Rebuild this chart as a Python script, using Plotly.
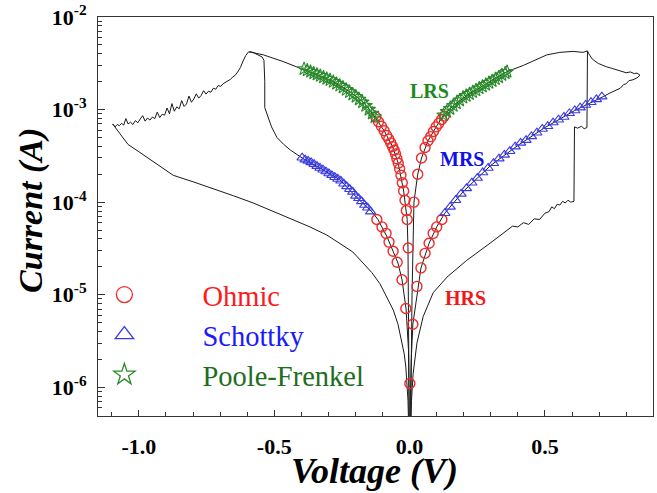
import math
import plotly.graph_objects as go

# ---------------- data (Voltage in V, Current in A) ----------------
# negative sweep: noisy rise to peak, drop, MRS branch, down to 0
neg_loop_v = [-1.097, -1.088, -1.080, -1.072, -1.064, -1.056, -1.048, -1.040, -1.031, -1.022,
              -1.013, -1.004, -0.995, -0.986, -0.977, -0.968, -0.959, -0.950, -0.941, -0.932,
              -0.923, -0.914, -0.905, -0.896, -0.887, -0.878, -0.869, -0.860, -0.851, -0.842,
              -0.833, -0.824, -0.815, -0.806, -0.797, -0.788, -0.779, -0.770, -0.761, -0.752,
              -0.743, -0.734, -0.725, -0.716, -0.707, -0.698, -0.689, -0.680, -0.671, -0.662,
              -0.653, -0.644, -0.635, -0.625, -0.615, -0.605,
              -0.595, -0.585, -0.575, -0.560, -0.545, -0.538, -0.535, -0.535, -0.525, -0.510,
              -0.490, -0.465, -0.440, -0.420, -0.397, -0.320, -0.257, -0.195, -0.140, -0.117,
              -0.100, -0.083, -0.060, -0.043, -0.028, -0.013, -0.004, -0.001]
neg_loop_i = [7.0e-4, 6.5e-4, 6.9e-4, 6.7e-4, 7.1e-4, 6.8e-4, 8.0e-4, 7.0e-4, 7.3e-4, 6.9e-4,
              7.6e-4, 7.2e-4, 7.9e-4, 8.6e-4, 7.5e-4, 8.1e-4, 7.7e-4, 8.3e-4, 8.0e-4, 9.4e-4,
              8.2e-4, 8.9e-4, 8.7e-4, 1.04e-3, 9.0e-4, 1.16e-3, 9.6e-4, 1.07e-3, 1.02e-3, 1.25e-3,
              1.08e-3, 1.15e-3, 1.40e-3, 1.20e-3, 1.30e-3, 1.48e-3, 1.33e-3, 1.42e-3, 1.60e-3, 1.47e-3,
              1.58e-3, 1.54e-3, 1.70e-3, 1.66e-3, 1.82e-3, 1.78e-3, 1.90e-3, 1.96e-3, 2.05e-3, 2.12e-3,
              2.25e-3, 2.35e-3, 2.55e-3, 2.85e-3, 3.35e-3, 3.85e-3,
              4.2e-3, 4.2e-3, 4.1e-3, 3.9e-3, 3.7e-3, 3.4e-3, 2.0e-3, 1.05e-3, 8.5e-4, 6.5e-4,
              5.0e-4, 4.2e-4, 3.65e-4, 3.3e-4, 3.0e-4, 2.24e-4, 1.74e-4, 1.12e-4, 7.9e-5, 6.5e-5,
              5.2e-5, 4.2e-5, 2.9e-5, 2.2e-5, 1.45e-5, 7.0e-6, 2.5e-6, 3.0e-7]

# negative sweep, HRS return branch
neg_hrs_v = [-1.097, -1.080, -1.060, -1.040, -1.000, -0.966, -0.920, -0.873, -0.800, -0.726,
             -0.650, -0.578, -0.500, -0.442, -0.368, -0.305, -0.257, -0.210, -0.172, -0.140,
             -0.110, -0.085, -0.060, -0.043, -0.029, -0.020, -0.014, -0.006, -0.002]
neg_hrs_i = [7.0e-4, 6.0e-4, 5.0e-4, 4.2e-4, 3.5e-4, 3.0e-4, 2.45e-4, 1.95e-4, 1.66e-4, 1.41e-4,
             1.17e-4, 9.8e-5, 7.9e-5, 6.6e-5, 5.4e-5, 4.4e-5, 3.6e-5, 2.9e-5, 2.2e-5, 1.74e-5,
             1.32e-5, 9.5e-6, 6.8e-6, 4.8e-6, 3.2e-6, 2.3e-6, 1.66e-6, 7.2e-7, 2.5e-7]

# negative LRS branch (from peak back to 0)
neg_lrs_v = [-0.5925, -0.540, -0.467, -0.393, -0.294, -0.220, -0.170, -0.128, -0.094, -0.063,
             -0.042, -0.022, -0.009, -0.006, -0.004, -0.003, -0.002, -0.001]
neg_lrs_i = [4.2e-3, 3.9e-3, 3.3e-3, 2.7e-3, 2.09e-3, 1.55e-3, 1.2e-3, 8.3e-4, 5.9e-4, 3.98e-4,
             2.63e-4, 1.32e-4, 6.5e-5, 3.2e-5, 1.0e-5, 3.2e-6, 1.0e-6, 3.2e-7]

# positive sweep: HRS rise, two set jumps, up to 0.85 V
pos_set_v = [0.002, 0.007, 0.013, 0.027, 0.050, 0.087, 0.138, 0.210, 0.297, 0.360,
             0.380, 0.400, 0.420, 0.440, 0.460, 0.480, 0.500, 0.515, 0.525, 0.535,
             0.545, 0.555, 0.565, 0.575, 0.585, 0.595, 0.607, 0.609, 0.620, 0.635,
             0.645, 0.655, 0.657, 0.662, 0.675, 0.697, 0.712, 0.727, 0.745, 0.765,
             0.780, 0.800, 0.815, 0.830, 0.840, 0.851]
pos_set_i = [2.5e-7, 7.2e-7, 1.4e-6, 3.0e-6, 5.8e-6, 1.05e-5, 1.55e-5, 2.34e-5, 3.6e-5, 5.0e-5,
             5.5e-5, 5.4e-5, 6.0e-5, 5.75e-5, 6.6e-5, 6.5e-5, 7.6e-5, 7.9e-5, 8.9e-5, 8.5e-5,
             9.5e-5, 9.3e-5, 1.02e-4, 9.8e-5, 1.05e-4, 1.0e-4, 1.02e-4, 6.5e-4, 6.3e-4, 6.6e-4,
             6.2e-4, 6.4e-4, 4.3e-3, 4.0e-3, 3.5e-3, 3.15e-3, 3.0e-3, 2.9e-3, 2.8e-3, 2.7e-3,
             2.62e-3, 2.5e-3, 2.55e-3, 2.45e-3, 2.48e-3, 2.35e-3]

# positive MRS return branch (0.85 V back to 0)
pos_mrs_v = [0.851, 0.840, 0.825, 0.810, 0.800, 0.790, 0.778, 0.760, 0.740, 0.715,
             0.610, 0.500, 0.400, 0.300, 0.200, 0.130, 0.100, 0.072, 0.042, 0.012,
             0.006, 0.003, 0.001]
pos_mrs_i = [2.35e-3, 2.2e-3, 2.1e-3, 2.05e-3, 1.9e-3, 1.86e-3, 1.7e-3, 1.62e-3, 1.51e-3, 1.38e-3,
             9.77e-4, 6.4e-4, 4.1e-4, 2.5e-4, 1.32e-4, 7.6e-5, 5.4e-5, 3.6e-5, 1.95e-5, 4.8e-6,
             2.0e-6, 8.0e-7, 2.5e-7]

# positive LRS branch (from peak back to 0)
pos_lrs_v = [0.657, 0.640, 0.604, 0.555, 0.507, 0.480, 0.420, 0.360, 0.293, 0.221,
             0.161, 0.125, 0.098, 0.068, 0.044, 0.030, 0.016, 0.012, 0.009, 0.007,
             0.005, 0.004]
pos_lrs_i = [4.3e-3, 4.15e-3, 4.25e-3, 4.15e-3, 3.9e-3, 3.6e-3, 3.0e-3, 2.57e-3, 1.95e-3, 1.48e-3,
             1.10e-3, 8.7e-4, 6.5e-4, 4.6e-4, 3.0e-4, 2.0e-4, 1.0e-4, 3.2e-5, 1.0e-5, 3.2e-6,
             1.0e-6, 3.2e-7]

# Ohmic fit points
ohmic_v = [-0.125, -0.115, -0.104, -0.094, -0.085, -0.077, -0.070, -0.063, -0.057, -0.052,
           -0.047, -0.042, -0.037, -0.032, -0.027, -0.022, -0.017, -0.012, -0.009, -0.005,
           0.128, 0.118, 0.108, 0.098, 0.088, 0.078, 0.068, 0.057, 0.044, 0.030, 0.016,
           -0.121, -0.102, -0.087, -0.076, -0.061, -0.046, -0.028, -0.014,
           0.119, 0.100, 0.087, 0.072, 0.057, 0.042, 0.027, 0.012, 0.001]
ohmic_i = [8.3e-4, 7.4e-4, 6.6e-4, 5.9e-4, 5.25e-4, 4.8e-4, 4.37e-4, 3.98e-4, 3.63e-4, 3.31e-4,
           2.95e-4, 2.63e-4, 2.29e-4, 1.95e-4, 1.62e-4, 1.32e-4, 1.05e-4, 8.1e-5, 6.5e-5, 3.2e-5,
           8.5e-4, 7.8e-4, 7.1e-4, 6.5e-4, 5.8e-4, 5.1e-4, 4.6e-4, 3.9e-4, 3.0e-4, 2.0e-4, 1.0e-4,
           6.5e-5, 5.4e-5, 4.6e-5, 3.7e-5, 2.95e-5, 2.24e-5, 1.45e-5, 7.1e-6,
           6.5e-5, 5.4e-5, 4.6e-5, 3.6e-5, 2.8e-5, 1.95e-5, 1.23e-5, 4.8e-6, 1.1e-6]

# Schottky fit points
schottky_v = [-0.397, -0.386, -0.375, -0.364, -0.353, -0.342, -0.331, -0.320, -0.309, -0.298,
              -0.287, -0.276, -0.265, -0.254, -0.243, -0.232, -0.221, -0.210, -0.199, -0.188,
              -0.177, -0.166, -0.155, -0.144,
              0.13, 0.15, 0.17, 0.19, 0.21, 0.23, 0.25, 0.27, 0.29, 0.31,
              0.33, 0.35, 0.37, 0.39, 0.41, 0.43, 0.45, 0.47, 0.49, 0.51,
              0.53, 0.55, 0.57, 0.59, 0.61, 0.63, 0.65, 0.67, 0.69, 0.71]
schottky_i = [3.02e-4, 2.88e-4, 2.79e-4, 2.69e-4, 2.57e-4, 2.45e-4, 2.34e-4, 2.24e-4, 2.14e-4, 2.04e-4,
              1.95e-4, 1.86e-4, 1.78e-4, 1.70e-4, 1.58e-4, 1.48e-4, 1.38e-4, 1.29e-4, 1.17e-4, 1.10e-4,
              1.02e-4, 9.3e-5, 8.7e-5, 7.9e-5,
              7.6e-5, 8.9e-5, 1.05e-4, 1.23e-4, 1.41e-4, 1.62e-4, 1.82e-4, 2.09e-4, 2.34e-4, 2.63e-4,
              2.95e-4, 3.24e-4, 3.55e-4, 3.98e-4, 4.37e-4, 4.68e-4, 5.13e-4, 5.62e-4, 6.17e-4, 6.61e-4,
              7.24e-4, 7.76e-4, 8.32e-4, 9.12e-4, 9.77e-4, 1.05e-3, 1.12e-3, 1.20e-3, 1.29e-3, 1.38e-3]

# Poole-Frenkel fit points
pf_v = [-0.390, -0.378, -0.366, -0.354, -0.342, -0.330, -0.318, -0.306, -0.294, -0.282,
        -0.270, -0.258, -0.246, -0.234, -0.222, -0.210, -0.198, -0.186, -0.174, -0.162,
        -0.150, -0.138, -0.128,
        0.125, 0.137, 0.149, 0.161, 0.173, 0.185, 0.197, 0.209, 0.221, 0.233,
        0.245, 0.257, 0.269, 0.281, 0.293, 0.305, 0.317, 0.329, 0.341, 0.353, 0.360]
pf_i = [2.75e-3, 2.66e-3, 2.57e-3, 2.48e-3, 2.40e-3, 2.32e-3, 2.24e-3, 2.16e-3, 2.09e-3, 2.00e-3,
        1.91e-3, 1.82e-3, 1.74e-3, 1.64e-3, 1.55e-3, 1.46e-3, 1.38e-3, 1.29e-3, 1.20e-3, 1.10e-3,
        1.00e-3, 9.1e-4, 8.3e-4,
        8.7e-4, 9.5e-4, 1.02e-3, 1.10e-3, 1.17e-3, 1.26e-3, 1.35e-3, 1.41e-3, 1.48e-3, 1.55e-3,
        1.62e-3, 1.70e-3, 1.78e-3, 1.86e-3, 1.95e-3, 2.04e-3, 2.14e-3, 2.24e-3, 2.37e-3, 2.48e-3, 2.57e-3]

state_labels = ["LRS", "MRS", "HRS"]
state_v = [0.072, 0.195, 0.208]
state_i = [1.6e-3, 2.9e-4, 9.2e-6]

legend_names = ["Ohmic", "Schottky", "Poole-Frenkel"]

x_tickvals = [-1.0, -0.5, 0.0, 0.5]
x_ticktext = ["-1.0", "-0.5", "0.0", "0.5"]
y_tickvals = [1e-6, 1e-5, 1e-4, 1e-3, 1e-2]
y_ticktext = ["10<sup>-6</sup>", "10<sup>-5</sup>", "10<sup>-4</sup>", "10<sup>-3</sup>", "10<sup>-2</sup>"]

# ---------------- figure ----------------
SERIF = "Liberation Serif, Times New Roman, serif"
RED = "#ee2a2a"
BLUE = "#3a3ae6"
GREEN = "#2a8a2a"
LINE = "#1a1a1a"
TEXT_COLORS = ["#ff1a1a", "#1a1aff", "#1e6e1e"]

fig = go.Figure()
for vx, iy in [(neg_loop_v, neg_loop_i), (neg_hrs_v, neg_hrs_i), (neg_lrs_v, neg_lrs_i),
               (pos_set_v, pos_set_i), (pos_mrs_v, pos_mrs_i), (pos_lrs_v, pos_lrs_i)]:
    fig.add_trace(go.Scatter(x=vx, y=iy, mode="lines", line=dict(color=LINE, width=1),
                             showlegend=False, hoverinfo="skip"))

marker_styles = [
    dict(symbol="circle-open", size=10, color=RED, line=dict(width=1.4, color=RED)),
    dict(symbol="triangle-up-open", size=9, color=BLUE, line=dict(width=1.1, color=BLUE)),
    dict(symbol="star-open", size=10, color=GREEN, line=dict(width=1.1, color=GREEN)),
]
for (vx, iy), name, ms, tc in zip([(ohmic_v, ohmic_i), (schottky_v, schottky_i), (pf_v, pf_i)],
                                  legend_names, marker_styles, TEXT_COLORS):
    fig.add_trace(go.Scatter(x=vx, y=iy, mode="markers", marker=ms, name=name,
                             legendgroup=name, showlegend=False))
    # legend entry with larger key symbol
    big = dict(ms)
    big["size"] = 16
    big["line"] = dict(width=1.3, color=ms["color"])
    fig.add_trace(go.Scatter(x=[None], y=[None], mode="markers", marker=big,
                             name=f"<span style='color:{tc}'>{name}</span>",
                             legendgroup=name, showlegend=True))

label_colors = ["#1e8a1e", "#1010e8", "#f01818"]
for lab, vx, iy, col in zip(state_labels, state_v, state_i, label_colors):
    fig.add_annotation(x=vx, y=math.log10(iy), text=f"<b>{lab}</b>", showarrow=False,
                       font=dict(family=SERIF, size=20, color=col), xanchor="center", yanchor="middle")

# axis titles
fig.add_annotation(xref="paper", yref="paper", x=0.499, y=-0.138, text="<b><i>Voltage (V)</i></b>",
                   showarrow=False, xanchor="center", yanchor="middle",
                   font=dict(family=SERIF, size=36, color="black"))
fig.add_annotation(xref="paper", yref="paper", x=-0.121, y=0.516, text="<b><i>Current (A)</i></b>",
                   showarrow=False, xanchor="center", yanchor="middle", textangle=-90,
                   font=dict(family=SERIF, size=34, color="black"))

fig.update_layout(
    width=657, height=493,
    margin=dict(l=98, r=4, t=17, b=77),
    paper_bgcolor="white", plot_bgcolor="white",
    font=dict(family=SERIF, color="black"),
    legend=dict(x=-0.093, y=0.203, xanchor="left", yanchor="middle",
                font=dict(family=SERIF, size=28.5), itemwidth=146,
                bgcolor="rgba(0,0,0,0)", tracegroupgap=0, itemsizing="trace"),
    xaxis=dict(range=[-1.151, 0.899], showgrid=False, zeroline=False, automargin=False,
               showline=True, linecolor="#333", linewidth=1, mirror=True,
               ticks="inside", ticklen=6, tickcolor="#333",
               tickmode="array", tickvals=x_tickvals, ticktext=x_ticktext,
               tickfont=dict(family=SERIF, size=22, color="black", weight="bold"),
               ticklabelstandoff=11,
               minor=dict(dtick=0.1, ticks="inside", ticklen=4, tickcolor="#333")),
    yaxis=dict(type="log", range=[-6.31, -2], showgrid=False, zeroline=False, automargin=False,
               showline=True, linecolor="#333", linewidth=1, mirror=True,
               ticks="inside", ticklen=7, tickcolor="#333",
               tickmode="array", tickvals=y_tickvals, ticktext=y_ticktext,
               tickfont=dict(family=SERIF, size=22, color="black", weight="bold"),
               ticklabelstandoff=6,
               minor=dict(dtick="D1", ticks="inside", ticklen=4, tickcolor="#333")),
)

fig.write_html("out.html", config={"displayModeBar": False},
               post_script="document.body.style.margin='0px';")
